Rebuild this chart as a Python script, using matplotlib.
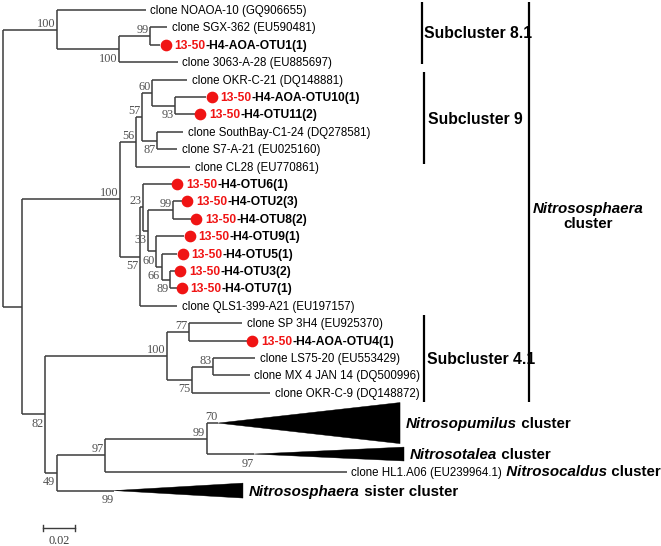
import matplotlib
matplotlib.use("Agg")
import matplotlib.pyplot as plt
from matplotlib.patches import Polygon

# ------------------------------------------------------------------ data
STUDY_PREFIX = "13-50"

leaf_ids = ["NOAOA10", "SGX362", "OTU1", "A3063", "OKRC21", "OTU10", "OTU11",
            "SouthBay", "S7A21", "CL28", "OTU6", "OTU2", "OTU8", "OTU9", "OTU5",
            "OTU3", "OTU7", "QLS1", "SP3H4", "OTU4", "LS75", "MX4", "OKRC9",
            "Npumilus", "Ntalea", "HL1", "Nsister"]
leaf_labels = ["clone NOAOA-10 (GQ906655)", "clone SGX-362 (EU590481)", "-H4-AOA-OTU1(1)",
               "clone 3063-A-28 (EU885697)", "clone OKR-C-21 (DQ148881)", "-H4-AOA-OTU10(1)",
               "-H4-OTU11(2)", "clone SouthBay-C1-24 (DQ278581)", "clone S7-A-21 (EU025160)",
               "clone CL28 (EU770861)", "-H4-OTU6(1)", "-H4-OTU2(3)", "-H4-OTU8(2)",
               "-H4-OTU9(1)", "-H4-OTU5(1)", "-H4-OTU3(2)", "-H4-OTU7(1)",
               "clone QLS1-399-A21 (EU197157)", "clone SP 3H4 (EU925370)", "-H4-AOA-OTU4(1)",
               "clone LS75-20 (EU553429)", "clone MX 4 JAN 14 (DQ500996)",
               "clone OKR-C-9 (DQ148872)", "Nitrosopumilus", "Nitrosotalea",
               "clone HL1.A06 (EU239964.1)", "Nitrososphaera"]
leaf_kind = ["clone", "clone", "otu", "clone", "clone", "otu", "otu", "clone", "clone",
             "clone", "otu", "otu", "otu", "otu", "otu", "otu", "otu", "clone", "clone",
             "otu", "clone", "clone", "clone", "clade", "clade", "clone", "clade"]
# distance from root (substitutions/site); for collapsed clades: apex of the triangle
leaf_depths = [0.0902, 0.1035, 0.0991, 0.1104, 0.1164, 0.1281, 0.1211, 0.1136, 0.1098,
               0.1180, 0.1066, 0.1129, 0.1186, 0.1142, 0.1098, 0.1085, 0.1095, 0.1098,
               0.1508, 0.1539, 0.1590, 0.1558, 0.1685, 0.1356, 0.1584, 0.2170, 0.0700]

# collapsed clades: far edge depth and bootstrap of the clade
clade_ids = ["Npumilus", "Ntalea", "Nsister"]
clade_tip_depth = [0.2505, 0.2530, 0.1514]
clade_support = [70, 97, 99]
clade_suffix = [" cluster", " cluster", " sister cluster"]

node_ids = ["R", "A", "C81", "N99a", "N22", "N100b", "N56", "N57a", "N60", "N93", "N87",
            "N57b", "N23", "N33", "N99c", "N60b", "N66", "N89", "N82", "N100c", "N77",
            "N75", "N83", "N49", "N97", "N99d"]
node_children = [["A", "N22"], ["NOAOA10", "C81"], ["N99a", "A3063"], ["SGX362", "OTU1"],
                 ["N100b", "N82"], ["N56", "N57b"], ["N57a", "CL28"], ["N60", "N87"],
                 ["OKRC21", "N93"], ["OTU10", "OTU11"], ["SouthBay", "S7A21"],
                 ["N23", "QLS1"], ["OTU6", "N33"], ["N99c", "N60b"], ["OTU2", "OTU8"],
                 ["OTU9", "N66"], ["OTU5", "N89"], ["OTU3", "OTU7"], ["N100c", "N49"],
                 ["N77", "N75"], ["SP3H4", "OTU4"], ["N83", "OKRC9"], ["LS75", "MX4"],
                 ["N97", "Nsister"], ["N99d", "HL1"], ["Npumilus", "Ntalea"]]
node_depths = [0.0, 0.0341, 0.0732, 0.0927, 0.0120, 0.0738, 0.0839, 0.0875, 0.0942, 0.1085,
               0.0972, 0.0864, 0.0881, 0.0915, 0.1074, 0.0965, 0.1001, 0.1054, 0.0265,
               0.1035, 0.1174, 0.1192, 0.1325, 0.0341, 0.0644, 0.1285]
node_support = [None, 100, 100, 99, None, 100, 56, 57, 60, 93, 87, 57, 23, 33, 99, 60, 66,
                89, 82, 100, 77, 75, 83, 49, 97, 99]

scale_value = 0.02

# ------------------------------------------------------------------ layout
PX = 1585.0      # pixels per unit of distance
ROW = 17.4       # pixels per leaf row
leaf_rows = list(range(23)) + [23.74, 25.52, 26.55, 27.62]
clade_half = [1.18, 0.40, 0.43]

def dx(p):
    return p / PX

def dy(p):
    return p / ROW

def xpx(p):
    return (p - 3) / PX

def ypx(p):
    return (p - 10) / ROW

LINE = "#3c3c3c"
RED = "#f01414"
SANS = "Liberation Sans"
SERIF = "Liberation Serif"
FS_LEAF = 8.3
FS_OTU = 8.7
FS_SUP = 8.8
FS_BIG = 11.3

fig = plt.figure(figsize=(6.61, 5.46), dpi=100)
ax = fig.add_axes([0, 0, 1, 1])
ax.set_xlim(xpx(0), xpx(661))
ax.set_ylim(ypx(546), ypx(0))
ax.axis("off")

depth = dict(zip(leaf_ids, leaf_depths))
depth.update(zip(node_ids, node_depths))
children = dict(zip(node_ids, node_children))
support = dict(zip(node_ids, node_support))
ypos = dict(zip(leaf_ids, leaf_rows))
clade_idx = {c: i for i, c in enumerate(clade_ids)}


def get_y(n):
    if n in ypos:
        return ypos[n]
    ch = children[n]
    y = (get_y(ch[0]) + get_y(ch[-1])) / 2
    ypos[n] = y
    return y


get_y("R")

lw = 1.1
for n in node_ids:
    ch = children[n]
    x0 = depth[n]
    ax.plot([x0, x0], [ypos[ch[0]], ypos[ch[-1]]], color=LINE, lw=lw,
            solid_capstyle="butt")
    for k, c in enumerate(ch):
        ax.plot([x0, depth[c]], [ypos[c], ypos[c]], color=LINE, lw=lw,
                solid_capstyle="butt")
        # bootstrap labels
        above = (k == 0)
        if c in support and support[c] is not None:
            xl = depth[c] - dx(1.5)
            val = support[c]
        elif c in clade_idx:
            xl = depth[c] - dx(0.5)
            val = clade_support[clade_idx[c]]
        else:
            continue
        yl = ypos[c] - dy(3.0) if above else ypos[c] + dy(12.5)
        ax.text(xl, yl, str(val), ha="right", va="baseline", fontsize=FS_SUP,
                family=SERIF, color="#505050")

# leaves
for i, lid in enumerate(leaf_ids):
    x = depth[lid]
    y = ypos[lid]
    kind = leaf_kind[i]
    base = y + dy(4.0)
    if kind == "clone":
        t = ax.text(x + dx(4.5), base, leaf_labels[i], ha="left", va="baseline",
                    fontsize=FS_LEAF, family=SANS, color="black")
        if lid == "HL1":
            t2 = ax.annotate(" Nitrosocaldus", xy=(1, 0), xycoords=t, ha="left",
                             va="bottom", fontsize=FS_BIG - 0.4, family=SANS,
                             fontweight="bold", fontstyle="italic")
            ax.annotate(" cluster", xy=(1, 0), xycoords=t2, ha="left", va="bottom",
                        fontsize=FS_BIG - 0.4, family=SANS, fontweight="bold")
    elif kind == "otu":
        ax.plot([x + dx(5.5)], [y], "o", color=RED, ms=7.4, mec=RED)
        t = ax.text(x + dx(14), base, STUDY_PREFIX, ha="left", va="baseline",
                    fontsize=FS_OTU, family=SANS, fontweight="bold", color=RED)
        ax.annotate(leaf_labels[i], xy=(1, 0), xycoords=t, ha="left", va="bottom",
                    fontsize=FS_OTU, family=SANS, fontweight="bold", color="black")
    else:
        j = clade_idx[lid]
        tip = clade_tip_depth[j]
        h = clade_half[j]
        ax.add_patch(Polygon([(x, y), (tip, y - h), (tip, y + h)], closed=True,
                             facecolor="black", edgecolor="black", lw=0.3))
        t = ax.text(tip + dx(6), y + dy(5.0), leaf_labels[i], ha="left", va="baseline",
                    fontsize=FS_BIG - 0.4, family=SANS, fontweight="bold",
                    fontstyle="italic")
        ax.annotate(clade_suffix[j], xy=(1, 0), xycoords=t, ha="left", va="bottom",
                    fontsize=FS_BIG - 0.4, family=SANS, fontweight="bold")

# cluster brackets
def bar(xp, y0, y1):
    ax.plot([xpx(xp), xpx(xp)], [ypx(y0), ypx(y1)], color="black", lw=1.6,
            solid_capstyle="butt")

bar(421.7, 2, 64)
ax.text(xpx(424), ypx(38.5), "Subcluster 8.1", ha="left", va="baseline",
        fontsize=FS_BIG, family=SANS, fontweight="bold")
bar(423.7, 72, 164)
ax.text(xpx(428), ypx(123.5), "Subcluster 9", ha="left", va="baseline",
        fontsize=FS_BIG, family=SANS, fontweight="bold")
bar(424, 315, 402)
ax.text(xpx(427), ypx(364.5), "Subcluster 4.1", ha="left", va="baseline",
        fontsize=FS_BIG, family=SANS, fontweight="bold")
bar(529, 2, 402)
ax.text(xpx(588), ypx(212.5), "Nitrososphaera", ha="center", va="baseline",
        fontsize=FS_BIG - 0.4, family=SANS, fontweight="bold", fontstyle="italic")
ax.text(xpx(588), ypx(228.5), "cluster", ha="center", va="baseline",
        fontsize=FS_BIG - 0.4, family=SANS, fontweight="bold")

# scale bar
sx0 = xpx(43.3)
sx1 = sx0 + scale_value
sy = ypx(528)
ax.plot([sx0, sx1], [sy, sy], color=LINE, lw=1.0)
for sx in (sx0, sx1):
    ax.plot([sx, sx], [sy - dy(3), sy + dy(3)], color=LINE, lw=1.0)
ax.text((sx0 + sx1) / 2, ypx(544), "0.02", ha="center", va="baseline",
        fontsize=FS_SUP, family=SERIF, color="#404040")

fig.savefig("out.png", dpi=100)
